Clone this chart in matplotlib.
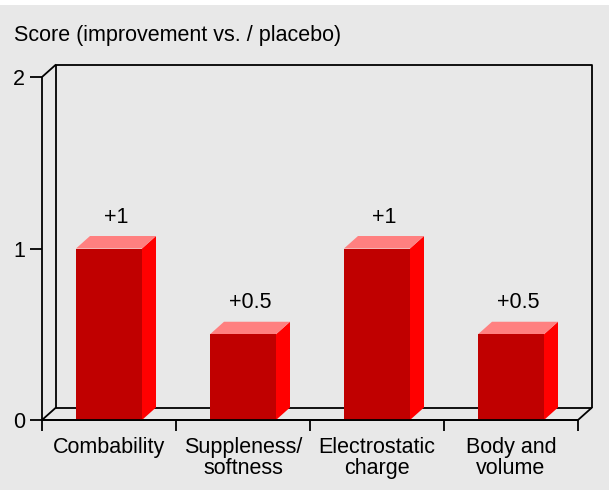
import matplotlib
matplotlib.use("Agg")
import matplotlib.pyplot as plt
from matplotlib.patches import Polygon, Rectangle

categories = ["Combability", "Suppleness/\nsoftness", "Electrostatic\ncharge", "Body and\nvolume"]
values = [1, 0.5, 1, 0.5]
value_labels = ["+1", "+0.5", "+1", "+0.5"]
y_ticks = [0, 1, 2]

front_col = "#c00000"
side_col = "#ff0000"
top_col = "#ff8080"
bg_col = "#e8e8e8"

plt.rcParams["font.family"] = ["Liberation Sans", "DejaVu Sans"]
fs = 15.5

fig = plt.figure(figsize=(6.09, 4.90), dpi=100)
fig.patch.set_facecolor("white")
# grey panel under everything, leaving a thin white strip at the top
fig.add_artist(Rectangle((0, 0), 1, 1 - 5 / 490, transform=fig.transFigure,
                         facecolor=bg_col, edgecolor="none", zorder=-10))

ax = fig.add_axes([42 / 609, 70 / 490, 536 / 609, 343 / 490])
ax.set_xlim(0, len(categories))
ax.set_ylim(0, 2)
ax.patch.set_visible(False)
for s in ax.spines.values():
    s.set_visible(False)

# depth offset for the fake 3D look (data units)
dx = 14 / 134
dy = 12.5 / 171.5
lw = 1.3
kw = dict(color="black", lw=lw, clip_on=False, solid_capstyle="butt")

top = y_ticks[-1]
n = len(categories)
# back wall and floor
ax.plot([dx, dx, n + dx, n + dx], [dy, top + dy, top + dy, dy], **kw)
ax.plot([dx, n + dx], [dy, dy], **kw)
ax.plot([0, n, n + dx], [0, 0, dy], **kw)
# front left axis and its diagonals
ax.plot([0, 0], [0, top], **kw)
ax.plot([0, dx], [top, top + dy], **kw)
ax.plot([0, dx], [0, dy], **kw)

# bars
w = 66 / 134
for i, v in enumerate(values):
    x0 = i + 0.5 - w / 2
    x1 = i + 0.5 + w / 2
    ax.add_patch(Polygon([(x1, 0), (x1 + dx, dy), (x1 + dx, v + dy), (x1, v)],
                         closed=True, facecolor=side_col, edgecolor="none", zorder=3))
    ax.add_patch(Polygon([(x0, v), (x0 + dx, v + dy), (x1 + dx, v + dy), (x1, v)],
                         closed=True, facecolor=top_col, edgecolor="none", zorder=3))
    ax.add_patch(Rectangle((x0, 0), w, v, facecolor=front_col, edgecolor="none", zorder=3))
    ax.annotate(value_labels[i], (i + 0.5 + dx / 2, v + dy), xytext=(0, 6),
                textcoords="offset points", ha="center", va="bottom", fontsize=fs)

# redraw front baseline on top of bars
ax.plot([0, n], [0, 0], zorder=4, **kw)

ax.set_yticks(y_ticks)
ax.set_yticklabels([str(t) for t in y_ticks], fontsize=fs)
ax.set_xticks(range(n + 1))
ax.set_xticklabels([])
ax.set_xticks([i + 0.5 for i in range(n)], minor=True)
ax.set_xticklabels(categories, minor=True, fontsize=fs, linespacing=1.05)
ax.tick_params(axis="y", length=9, width=lw, pad=3)
ax.tick_params(axis="x", which="major", length=8, width=lw, direction="out")
ax.tick_params(axis="x", which="minor", length=0, pad=12)

fig.text(14 / 609, 1 - 36 / 490, "Score (improvement vs. / placebo)", fontsize=fs,
         ha="left", va="center")

fig.savefig("out.png", dpi=100, facecolor=fig.get_facecolor())
